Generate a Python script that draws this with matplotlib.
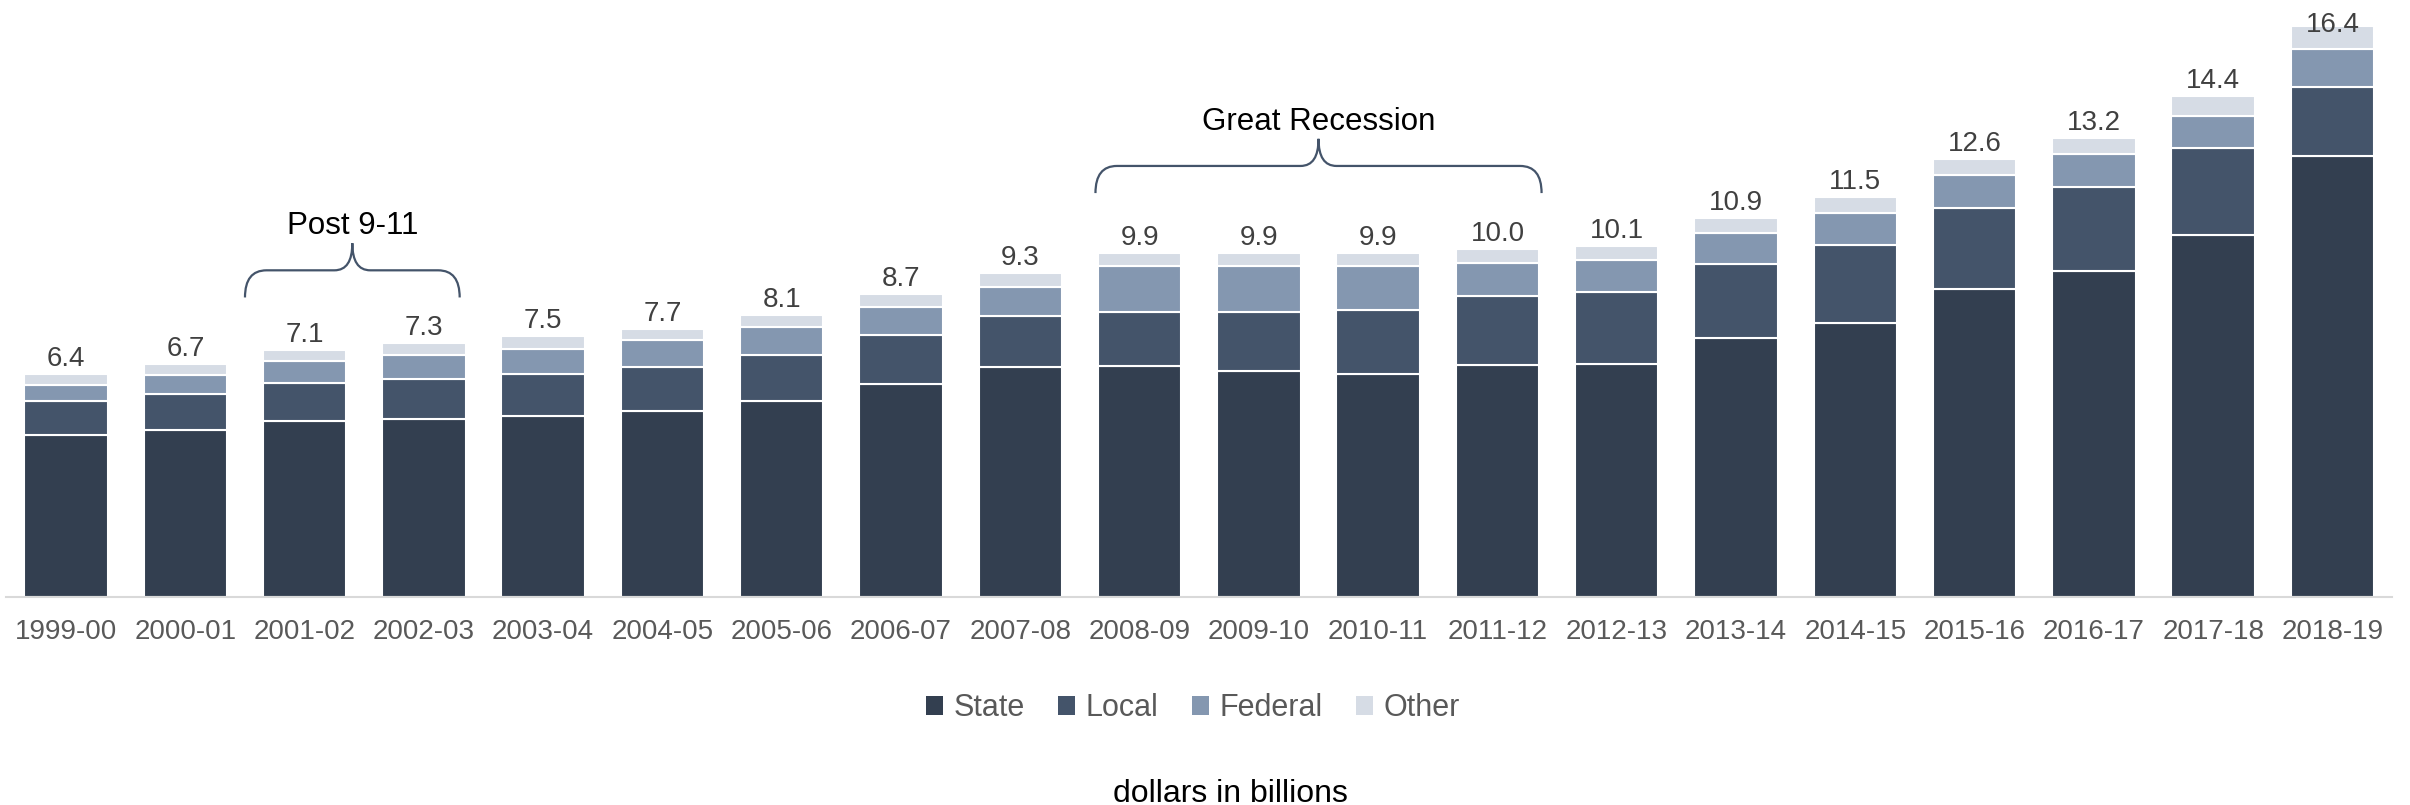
import matplotlib.pyplot as plt
from matplotlib.path import Path
from matplotlib.patches import PathPatch, Patch

plt.rcParams['font.family'] = ['Liberation Sans', 'DejaVu Sans']

years = ['1999-00', '2000-01', '2001-02', '2002-03', '2003-04', '2004-05', '2005-06',
         '2006-07', '2007-08', '2008-09', '2009-10', '2010-11', '2011-12', '2012-13',
         '2013-14', '2014-15', '2015-16', '2016-17', '2017-18', '2018-19']
state = [4.65, 4.81, 5.07, 5.13, 5.21, 5.34, 5.64, 6.12, 6.61, 6.64,
         6.50, 6.41, 6.66, 6.71, 7.44, 7.88, 8.85, 9.36, 10.40, 12.69]
local = [0.97, 1.02, 1.07, 1.13, 1.21, 1.26, 1.32, 1.40, 1.48, 1.56,
         1.69, 1.83, 1.98, 2.06, 2.13, 2.25, 2.34, 2.42, 2.51, 1.98]
federal = [0.48, 0.56, 0.63, 0.70, 0.72, 0.78, 0.79, 0.81, 0.81, 1.32,
           1.31, 1.27, 0.95, 0.91, 0.89, 0.90, 0.93, 0.94, 0.93, 1.07]
other = [0.30, 0.31, 0.33, 0.34, 0.36, 0.32, 0.35, 0.37, 0.40, 0.38,
         0.40, 0.39, 0.41, 0.42, 0.44, 0.47, 0.48, 0.48, 0.56, 0.66]

series = [('State', state, '#333F50'), ('Local', local, '#44546A'),
          ('Federal', federal, '#8497B0'), ('Other', other, '#D6DCE5')]

# annotated periods: label, left end, right end, height of the brace line
periods = [('Post 9-11', 1.5, 3.3, 9.39), ('Great Recession', 8.63, 12.37, 12.39)]

YMAX = 17.16


def draw_brace(ax, x0, x1, y, h, r_end, r_tip, color):
    xm = (x0 + x1) / 2
    verts = [(x0, y - h), (x0, y), (x0 + r_end, y),
             (xm - r_tip, y), (xm, y), (xm, y + h),
             (xm, y), (xm + r_tip, y),
             (x1 - r_end, y), (x1, y), (x1, y - h)]
    codes = [Path.MOVETO, Path.CURVE3, Path.CURVE3,
             Path.LINETO, Path.CURVE3, Path.CURVE3,
             Path.CURVE3, Path.CURVE3,
             Path.LINETO, Path.CURVE3, Path.CURVE3]
    ax.add_patch(PathPatch(Path(verts, codes), fill=False, edgecolor=color,
                           linewidth=1.6, capstyle='butt'))


fig = plt.figure(figsize=(24.1, 8.05), dpi=100)
ax = fig.add_axes([0.00266, 1 - 597 / 805, 0.9899, 597 / 805])

x = list(range(len(years)))
bottom = [0.0] * len(years)
for name, vals, color in series:
    ax.bar(x, vals, width=0.7, bottom=bottom, color=color,
           edgecolor='white', linewidth=1.5, label=name)
    bottom = [b + v for b, v in zip(bottom, vals)]

# totals above each bar; the tallest one is pushed down to stay inside the figure
for xi, total in zip(x, bottom):
    y_text = min(total + 0.23, YMAX - 0.91)
    ax.text(xi, y_text, f'{total:.1f}', ha='center', va='baseline',
            fontsize=20, color='#404040')

for label, x0, x1, y in periods:
    draw_brace(ax, x0, x1, y, 0.78, 0.18, 0.15, '#44546A')
    ax.text((x0 + x1) / 2, y + 1.27, label, ha='center', va='center',
            fontsize=22.5, color='black')

ax.set_xlim(-0.5, len(years) - 0.5)
ax.set_ylim(0, YMAX)
ax.set_xticks(x)
ax.set_xticklabels(years, fontsize=20, color='#595959')
ax.tick_params(axis='x', length=0, pad=16)
ax.set_yticks([])
for side in ['left', 'right', 'top']:
    ax.spines[side].set_visible(False)
ax.spines['bottom'].set_color('#D9D9D9')
ax.spines['bottom'].set_linewidth(1.5)

handles = [Patch(facecolor=c, edgecolor='none', label=n) for n, _, c in series]
leg = fig.legend(handles=handles, loc='center', bbox_to_anchor=(0.495, 0.12), ncol=4,
                 frameon=False, fontsize=22, handlelength=0.55, handleheight=0.55,
                 handletextpad=0.35, columnspacing=1.1)
for t in leg.get_texts():
    t.set_color('#595959')

fig.text(0.5105, 0.014, 'dollars in billions', ha='center', va='center',
         fontsize=23, color='black')

fig.savefig('out.png', dpi=100)
